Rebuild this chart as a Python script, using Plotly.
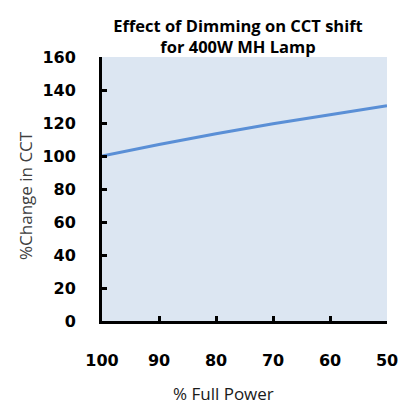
import plotly.graph_objects as go

power = [100, 90, 80, 70, 60, 50]
cct_change = [100, 107, 113.5, 119.5, 125, 130.5]
x_ticks = [100, 90, 80, 70, 60, 50]
y_ticks = [0, 20, 40, 60, 80, 100, 120, 140, 160]

W, H = 404, 408
L, R, T, B = 102, 17, 57, 87

fig = go.Figure()
fig.add_trace(go.Scatter(
    x=power, y=cct_change, mode="lines",
    line=dict(color="#5a8fd6", width=3),
    hoverinfo="skip", showlegend=False,
))

tick_font = dict(family="DejaVu Sans", size=16, color="#000000", weight="bold")

fig.update_layout(
    width=W, height=H,
    margin=dict(l=L, r=R, t=T, b=B, pad=0, autoexpand=False),
    paper_bgcolor="#ffffff",
    plot_bgcolor="#dce6f2",
    title=dict(
        text="Effect of Dimming on CCT shift<br>for 400W MH Lamp",
        x=238 / W, xanchor="center",
        y=1 - 32 / H, yanchor="middle",
        font=dict(family="Open Sans", size=16.5, color="#000000", weight="bold"),
    ),
    xaxis=dict(
        range=[100, 50], tickvals=x_ticks, ticktext=[str(v) for v in x_ticks],
        ticks="inside", ticklen=5, tickwidth=3, tickcolor="#000000",
        showline=True, linewidth=3, linecolor="#000000",
        showgrid=False, zeroline=False, tickfont=tick_font,
        ticklabelstandoff=23, automargin=False,
    ),
    yaxis=dict(
        range=[0, 160], tickvals=y_ticks, ticktext=[str(v) for v in y_ticks],
        ticks="inside", ticklen=5, tickwidth=3, tickcolor="#000000",
        showline=True, linewidth=3, linecolor="#000000",
        showgrid=False, zeroline=False, tickfont=tick_font,
        ticklabelstandoff=20, automargin=False,
    ),
    annotations=[
        dict(text="% Full Power", xref="paper", yref="paper",
             x=(223 - L) / (W - L - R), y=-(393 - (H - B)) / (H - T - B),
             xanchor="center", yanchor="middle", showarrow=False,
             font=dict(family="Open Sans", size=17, color="#1a1a1a")),
        dict(text="%Change in CCT", xref="paper", yref="paper",
             x=-(L - 25) / (W - L - R), y=(H - B - 196) / (H - T - B),
             xanchor="center", yanchor="middle", showarrow=False, textangle=-90,
             font=dict(family="Open Sans", size=17, color="#404040")),
    ],
)

fig.write_html(
    "out.html",
    config={"displayModeBar": False},
    post_script="document.body.style.margin='0';document.body.style.overflow='hidden';",
)
